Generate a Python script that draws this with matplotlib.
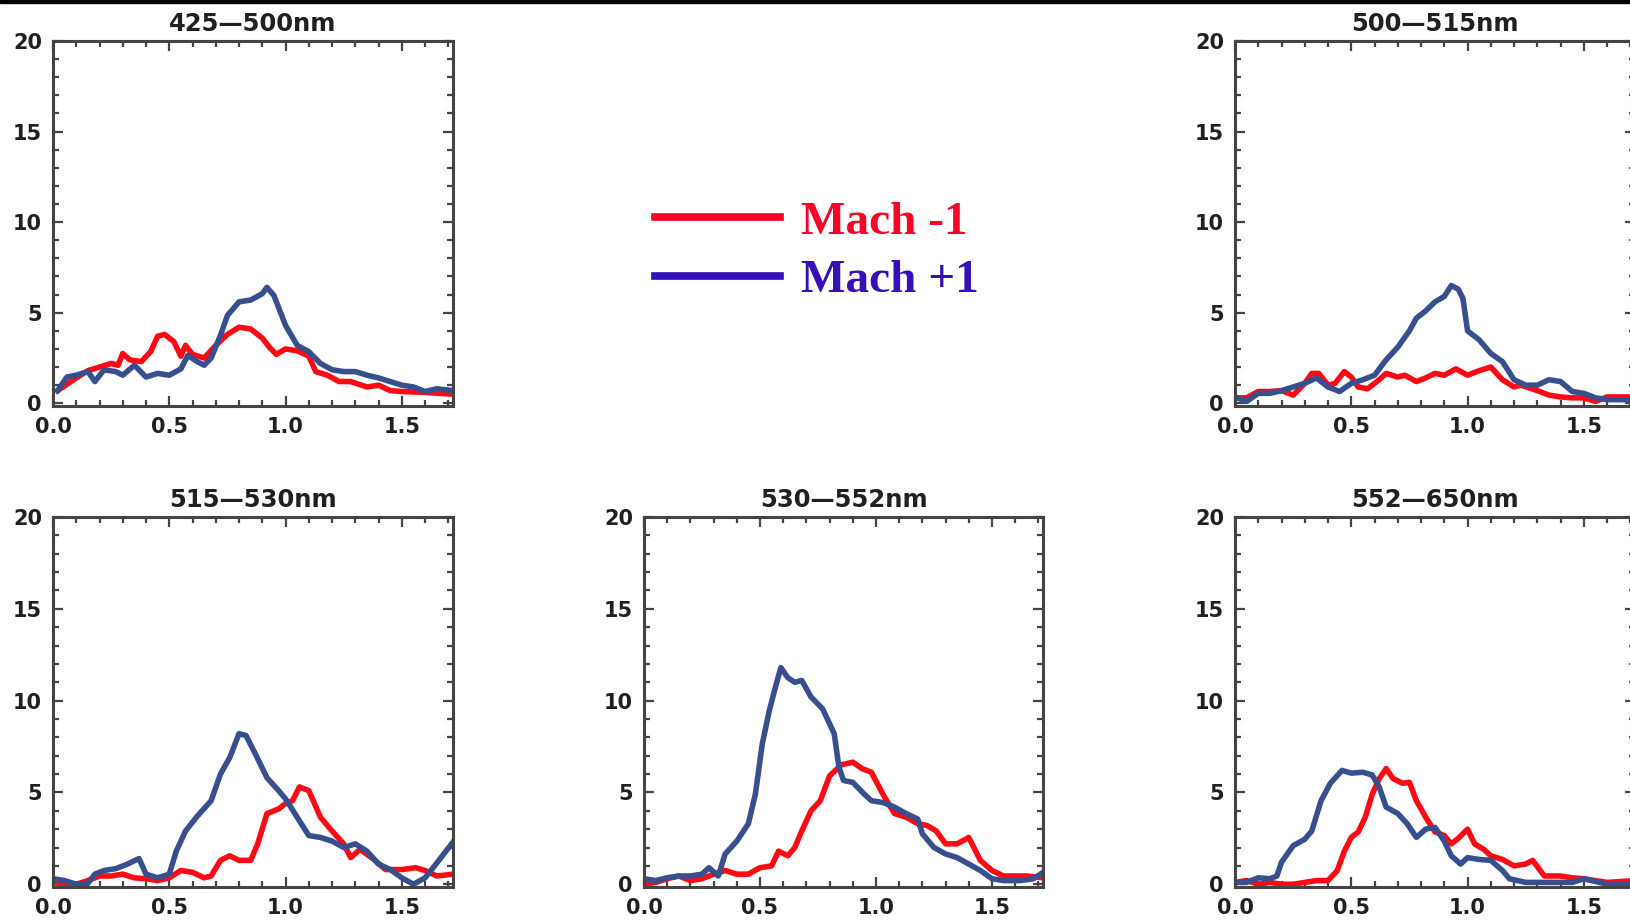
import matplotlib.pyplot as plt
from matplotlib.lines import Line2D
from matplotlib.patches import Rectangle
from matplotlib.ticker import MultipleLocator, FormatStrFormatter

# ── DATA ──────────────────────────────────────────────
titles = ['425—500nm', '500—515nm', '515—530nm', '530—552nm', '552—650nm']
legend_labels = ['Mach -1', 'Mach +1']

# 425-500nm
x_a_red = [0.02, 0.10, 0.15, 0.20, 0.25, 0.28, 0.30, 0.33, 0.38, 0.42, 0.45, 0.48, 0.52, 0.55,
           0.57, 0.60, 0.65, 0.70, 0.75, 0.80, 0.85, 0.90, 0.93, 0.96, 1.00, 1.05, 1.10, 1.13,
           1.18, 1.23, 1.28, 1.35, 1.40, 1.45, 1.50, 1.60, 1.72]
y_a_red = [0.7, 1.4, 1.8, 2.0, 2.2, 2.1, 2.75, 2.4, 2.3, 2.85, 3.7, 3.8, 3.4, 2.6,
           3.2, 2.7, 2.5, 3.2, 3.8, 4.2, 4.1, 3.6, 3.1, 2.7, 3.0, 2.9, 2.6, 1.75,
           1.55, 1.2, 1.2, 0.9, 1.0, 0.7, 0.65, 0.6, 0.5]
x_a_blue = [0.02, 0.06, 0.10, 0.15, 0.18, 0.22, 0.27, 0.30, 0.35, 0.40, 0.45, 0.50, 0.55, 0.58,
            0.62, 0.65, 0.68, 0.72, 0.75, 0.80, 0.85, 0.90, 0.92, 0.95, 1.00, 1.05, 1.10, 1.15,
            1.20, 1.25, 1.30, 1.35, 1.40, 1.45, 1.50, 1.55, 1.60, 1.65, 1.72]
y_a_blue = [0.7, 1.45, 1.55, 1.75, 1.2, 1.85, 1.75, 1.55, 2.1, 1.45, 1.65, 1.55, 1.9, 2.65,
            2.3, 2.1, 2.5, 3.75, 4.85, 5.6, 5.7, 6.05, 6.4, 5.95, 4.3, 3.2, 2.85, 2.2,
            1.85, 1.75, 1.75, 1.55, 1.4, 1.2, 1.0, 0.9, 0.65, 0.8, 0.7]

# 500-515nm
x_b_red = [0.0, 0.05, 0.10, 0.15, 0.20, 0.25, 0.30, 0.33, 0.36, 0.40, 0.43, 0.47, 0.50, 0.53,
           0.57, 0.62, 0.65, 0.70, 0.73, 0.78, 0.82, 0.86, 0.90, 0.95, 1.00, 1.05, 1.10, 1.15,
           1.20, 1.23, 1.30, 1.35, 1.40, 1.45, 1.50, 1.55, 1.60, 1.72]
y_b_red = [0.3, 0.3, 0.65, 0.65, 0.7, 0.45, 1.1, 1.65, 1.65, 1.0, 1.1, 1.75, 1.45, 0.9,
           0.8, 1.3, 1.65, 1.45, 1.55, 1.2, 1.4, 1.65, 1.55, 1.9, 1.55, 1.8, 2.0, 1.3,
           0.9, 1.0, 0.7, 0.45, 0.35, 0.3, 0.3, 0.1, 0.35, 0.35]
x_b_blue = [0.0, 0.05, 0.10, 0.15, 0.20, 0.25, 0.30, 0.35, 0.40, 0.45, 0.50, 0.55, 0.60, 0.65,
            0.70, 0.75, 0.78, 0.82, 0.86, 0.90, 0.93, 0.96, 0.98, 1.00, 1.05, 1.10, 1.15, 1.20,
            1.25, 1.30, 1.35, 1.40, 1.45, 1.50, 1.55, 1.60, 1.72]
y_b_blue = [0.35, 0.1, 0.55, 0.55, 0.7, 0.9, 1.1, 1.4, 0.9, 0.65, 1.1, 1.3, 1.55, 2.4,
            3.1, 4.0, 4.7, 5.1, 5.6, 5.9, 6.5, 6.3, 5.8, 4.0, 3.5, 2.75, 2.3, 1.3,
            1.0, 1.0, 1.3, 1.2, 0.65, 0.55, 0.3, 0.2, 0.2]

# 515-530nm
x_c_red = [0.0, 0.05, 0.10, 0.15, 0.20, 0.25, 0.30, 0.35, 0.40, 0.45, 0.50, 0.55, 0.60, 0.65,
           0.68, 0.72, 0.76, 0.80, 0.85, 0.88, 0.92, 0.97, 1.00, 1.03, 1.06, 1.10, 1.15, 1.20,
           1.25, 1.28, 1.32, 1.38, 1.43, 1.50, 1.56, 1.60, 1.65, 1.72]
y_c_red = [0.1, 0.0, 0.0, 0.2, 0.45, 0.45, 0.55, 0.35, 0.3, 0.2, 0.35, 0.75, 0.65, 0.35,
           0.45, 1.3, 1.55, 1.3, 1.3, 2.2, 3.85, 4.1, 4.4, 4.55, 5.3, 5.1, 3.65, 2.9,
           2.2, 1.45, 1.9, 1.35, 0.8, 0.8, 0.9, 0.75, 0.45, 0.55]
x_c_blue = [0.0, 0.05, 0.10, 0.15, 0.18, 0.22, 0.27, 0.32, 0.37, 0.40, 0.45, 0.50, 0.53, 0.57,
            0.62, 0.68, 0.72, 0.76, 0.80, 0.83, 0.87, 0.92, 0.97, 1.00, 1.05, 1.10, 1.15, 1.20,
            1.25, 1.30, 1.35, 1.40, 1.45, 1.50, 1.55, 1.60, 1.65, 1.72]
y_c_blue = [0.3, 0.2, 0.0, 0.05, 0.55, 0.75, 0.85, 1.1, 1.4, 0.55, 0.35, 0.55, 1.8, 2.9,
            3.7, 4.55, 6.0, 6.9, 8.2, 8.1, 7.1, 5.8, 5.1, 4.65, 3.65, 2.65, 2.55, 2.35,
            2.0, 2.2, 1.8, 1.1, 0.8, 0.35, 0.0, 0.35, 1.15, 2.3]

# 530-552nm
x_d_red = [0.0, 0.05, 0.10, 0.15, 0.20, 0.25, 0.30, 0.35, 0.40, 0.45, 0.50, 0.55, 0.58, 0.62,
           0.65, 0.68, 0.72, 0.76, 0.80, 0.85, 0.90, 0.94, 0.98, 1.03, 1.08, 1.13, 1.18, 1.22,
           1.26, 1.30, 1.35, 1.40, 1.45, 1.50, 1.55, 1.65, 1.72]
y_d_red = [0.0, 0.1, 0.3, 0.45, 0.2, 0.3, 0.55, 0.75, 0.55, 0.55, 0.9, 1.0, 1.8, 1.55,
           2.0, 2.9, 4.0, 4.55, 5.9, 6.5, 6.65, 6.3, 6.1, 4.9, 3.85, 3.65, 3.3, 3.2,
           2.9, 2.2, 2.2, 2.55, 1.3, 0.75, 0.45, 0.45, 0.35]
x_d_blue = [0.0, 0.05, 0.10, 0.15, 0.20, 0.25, 0.28, 0.32, 0.35, 0.40, 0.45, 0.48, 0.51, 0.54,
            0.57, 0.59, 0.62, 0.65, 0.68, 0.72, 0.77, 0.82, 0.84, 0.86, 0.90, 0.95, 0.98, 1.03,
            1.08, 1.13, 1.18, 1.20, 1.25, 1.30, 1.35, 1.40, 1.45, 1.50, 1.55, 1.62, 1.68, 1.72]
y_d_blue = [0.3, 0.2, 0.35, 0.45, 0.45, 0.55, 0.9, 0.45, 1.65, 2.35, 3.3, 4.9, 7.65, 9.45,
            10.9, 11.8, 11.25, 11.0, 11.1, 10.2, 9.55, 8.2, 6.4, 5.65, 5.55, 4.9, 4.55, 4.45,
            4.2, 3.85, 3.55, 2.75, 2.0, 1.65, 1.45, 1.1, 0.75, 0.3, 0.2, 0.2, 0.3, 0.65]

# 552-650nm
x_e_red = [0.0, 0.05, 0.10, 0.15, 0.20, 0.25, 0.30, 0.35, 0.40, 0.44, 0.47, 0.50, 0.53, 0.56,
           0.59, 0.62, 0.65, 0.68, 0.72, 0.75, 0.78, 0.82, 0.86, 0.90, 0.93, 0.96, 1.00, 1.03,
           1.07, 1.10, 1.15, 1.20, 1.25, 1.28, 1.33, 1.40, 1.45, 1.50, 1.60, 1.72]
y_e_red = [0.1, 0.2, 0.0, 0.1, 0.0, 0.0, 0.1, 0.2, 0.2, 0.75, 1.8, 2.55, 2.85, 3.65,
           4.9, 5.75, 6.3, 5.75, 5.5, 5.55, 4.55, 3.65, 2.85, 2.65, 2.2, 2.5, 3.0, 2.2,
           1.9, 1.55, 1.35, 1.0, 1.1, 1.3, 0.45, 0.45, 0.35, 0.3, 0.1, 0.2]
x_e_blue = [0.0, 0.05, 0.10, 0.15, 0.18, 0.20, 0.25, 0.30, 0.33, 0.37, 0.41, 0.46, 0.50, 0.55,
            0.59, 0.62, 0.65, 0.70, 0.74, 0.78, 0.82, 0.86, 0.90, 0.93, 0.97, 1.00, 1.05, 1.10,
            1.15, 1.18, 1.25, 1.35, 1.45, 1.50, 1.60, 1.72]
y_e_blue = [0.1, 0.1, 0.35, 0.3, 0.45, 1.2, 2.1, 2.45, 2.9, 4.55, 5.5, 6.2, 6.05, 6.1,
            5.95, 5.3, 4.2, 3.85, 3.3, 2.55, 3.0, 3.1, 2.35, 1.55, 1.1, 1.45, 1.35, 1.3,
            0.75, 0.3, 0.1, 0.1, 0.1, 0.3, 0.0, 0.0]

panel_red = [(x_a_red, y_a_red), (x_b_red, y_b_red), (x_c_red, y_c_red),
             (x_d_red, y_d_red), (x_e_red, y_e_red)]
panel_blue = [(x_a_blue, y_a_blue), (x_b_blue, y_b_blue), (x_c_blue, y_c_blue),
              (x_d_blue, y_d_blue), (x_e_blue, y_e_blue)]

# ── LAYOUT (pixels: left, top, right, bottom) ────────
W, H = 1631, 921
boxes = [(53, 41, 453, 406), (1235, 41, 1635, 406),
         (53, 517, 453, 887), (644, 517, 1043, 887), (1235, 517, 1635, 887)]

RED = '#ff0a14'
BLUE = '#384f8e'
AXC = '#444444'

fig = plt.figure(figsize=(W / 100, H / 100), dpi=100)
fig.patches.append(Rectangle((0, 1 - 3 / H), 1, 3 / H, transform=fig.transFigure,
                             color='black', zorder=10))

for i, (l, t, r, b) in enumerate(boxes):
    ax = fig.add_axes([l / W, 1 - b / H, (r - l) / W, (b - t) / H])
    ax.plot(*panel_red[i], color=RED, lw=4.0, solid_joinstyle='round')
    ax.plot(*panel_blue[i], color=BLUE, lw=4.0, solid_joinstyle='round')
    ax.set_xlim(0, 1.72)
    ax.set_ylim(-0.15, 20)
    ax.xaxis.set_major_locator(MultipleLocator(0.5))
    ax.xaxis.set_minor_locator(MultipleLocator(0.1))
    ax.yaxis.set_minor_locator(MultipleLocator(1))
    ax.xaxis.set_major_formatter(FormatStrFormatter('%.1f'))
    ax.set_yticks([0, 5, 10, 15, 20])
    ax.tick_params(which='both', direction='in', top=True, right=True, color=AXC,
                   labelsize=15, labelcolor='#202020', width=1.6)
    ax.tick_params(which='major', length=7, pad=8)
    ax.tick_params(which='minor', length=4)
    for lab in ax.get_xticklabels() + ax.get_yticklabels():
        lab.set_fontweight('bold')
    for sp in ax.spines.values():
        sp.set_linewidth(2.2)
        sp.set_color(AXC)
    ax.set_title(titles[i], fontsize=17.5, fontweight='bold', color='#202020', pad=7)

# ── LEGEND ───────────────────────────────────────────
handles = [Line2D([], [], color='#ff0026', lw=5.5), Line2D([], [], color='#3510b8', lw=5.5)]
leg = fig.legend(handles, legend_labels, loc='center', bbox_to_anchor=(0.501, 0.727),
                 frameon=False, handlelength=2.65, handletextpad=0.45, labelspacing=0.32,
                 borderpad=0, prop={'family': 'Liberation Serif', 'weight': 'bold', 'size': 34})
for txt, c in zip(leg.get_texts(), ['#ff0026', '#3510b8']):
    txt.set_color(c)

plt.savefig('out.png', dpi=100, facecolor='white')
